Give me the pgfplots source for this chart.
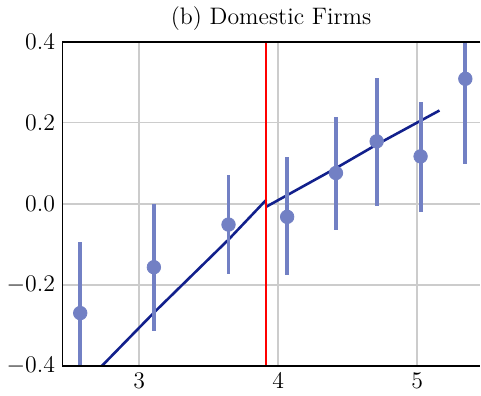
\documentclass[border=0pt]{standalone}
\usepackage{pgfplots}
\pgfplotsset{compat=1.18}
\definecolor{ptblue}{RGB}{114,128,196}
\definecolor{fitblue}{RGB}{18,32,140}
\definecolor{gridgray}{RGB}{204,204,204}
\begin{document}
\begin{tikzpicture}
\begin{axis}[
  scale only axis,
  width=210.5pt, height=163.5pt,
  xmin=2.444, xmax=5.453,
  ymin=-0.4, ymax=0.4,
  xtick={3,4,5},
  ytick={-0.4,-0.2,0,0.2,0.4},
  yticklabel style={/pgf/number format/.cd,fixed,fixed zerofill,precision=1},
  tick label style={font=\fontsize{11.5}{13}\selectfont},
  major tick length=0pt,
  grid=major,
  major grid style={gridgray, line width=0.8pt},
  axis line style={draw=none},
  title={(b) Domestic Firms},
  title style={font=\fontsize{12}{14}\selectfont, yshift=-4pt},
  clip=true,
]
\addplot[fitblue, line width=1.3pt] coordinates {
  (2.70,-0.41) (3.105,-0.268) (3.642,-0.088) (3.914,0.010)};
\addplot[fitblue, line width=1.3pt] coordinates {
  (3.914,-0.007) (4.415,0.088) (4.708,0.146) (5.16,0.230)};
\addplot[only marks, mark=*, mark size=3.4pt,
  mark options={draw=ptblue, fill=ptblue},
  error bars/.cd, y dir=both, y explicit, error mark=none,
  error bar style={ptblue, line width=2pt}]
  table[x=x, y=y, y error plus=ep, y error minus=em] {
  x     y      ep     em
  2.575 -0.269 0.176  0.20
  3.105 -0.156 0.156  0.157
  3.642 -0.051 0.122  0.122
  4.064 -0.032 0.147  0.144
  4.415  0.076 0.137  0.140
  4.708  0.154 0.156  0.159
  5.024  0.117 0.135  0.137
  5.346  0.308 0.12   0.210
  };
\addplot[red, line width=1pt] coordinates {(3.914,-0.4) (3.914,0.4)};
\draw[black, line width=1.1pt] (rel axis cs:0,0) -- (rel axis cs:1,0);
\draw[black, line width=1.1pt] (rel axis cs:1,1) -- (rel axis cs:0,1) -- (rel axis cs:0,0);
\end{axis}
\end{tikzpicture}
\end{document}
